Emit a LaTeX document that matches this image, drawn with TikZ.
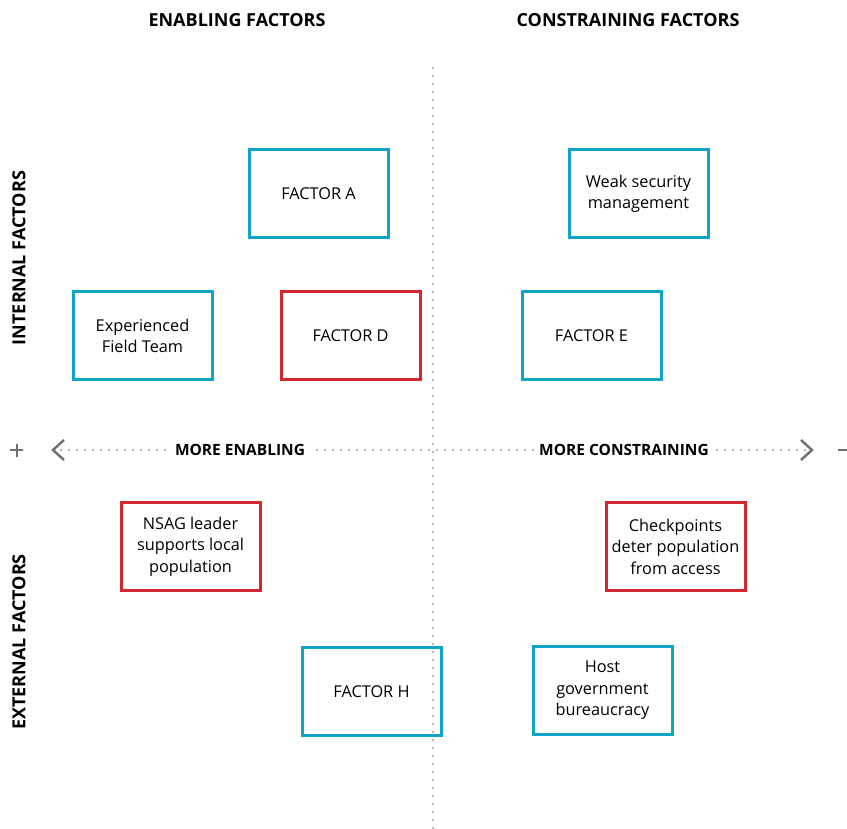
\documentclass[tikz,border=0pt]{standalone}
\usepackage{fontspec}
\setmainfont{Open Sans}
\definecolor{fblue}{HTML}{12A3C9}
\definecolor{fred}{HTML}{D3272F}
\definecolor{axgray}{HTML}{707070}
\begin{document}
\begin{tikzpicture}[x=1pt,y=-1pt,
  box/.style={draw=#1,line width=3pt,minimum width=139pt,minimum height=88pt,inner sep=0pt,align=center,font=\fontsize{16.3}{21.5}\selectfont},
  head/.style={font=\bfseries\fontsize{18}{21}\selectfont},
  axlab/.style={fill=white,inner sep=5pt,font=\bfseries\fontsize{15.5}{18}\selectfont},
  dotline/.style={axgray,line width=1.8pt,line cap=round,dash pattern=on 0pt off 8pt},
  chev/.style={axgray,line width=2.4pt}]
\useasboundingbox (0,0) rectangle (847,829);
% headings
\node[head] (h1) at (237,20) {ENABLING FACTORS};
\node[head] (h2) at (628,20) {CONSTRAINING FACTORS};
\node[head,rotate=90] (h3) at (19,258) {INTERNAL FACTORS};
\node[head,rotate=90] (h4) at (19,642) {EXTERNAL FACTORS};
% axes
\coordinate (vt) at (433,68);
\coordinate (vb) at (433,829);
\draw[dotline] (vt) -- (vb);
\coordinate (al) at (53,450);
\coordinate (ar) at (812,450);
\draw[dotline] (al) -- (ar);
\draw[chev] (64,440) -- (al) -- (64,460);
\draw[chev] (801,440) -- (ar) -- (801,460);
\node[axlab] (le) at (240,450) {MORE ENABLING};
\node[axlab] (lc) at (624,450) {MORE CONSTRAINING};
\draw[axgray,line width=2pt] (10,450) -- (23,450) (16.5,443.5) -- (16.5,456.5);
\draw[axgray,line width=2pt] (838,450) -- (850,450);
% boxes
\node[box=fblue] (a) at (318.5,194) {FACTOR A};
\node[box=fblue] (w) at (638.5,194) {Weak security\\management};
\node[box=fblue] (x) at (142.5,336) {Experienced\\Field Team};
\node[box=fred] (d) at (350.5,336) {FACTOR D};
\node[box=fblue] (e) at (591.5,336) {FACTOR E};
\node[box=fred] (n) at (190.5,546.5) {NSAG leader\\supports local\\population};
\node[box=fred] (c) at (675.5,546.5) {Checkpoints\\deter population\\from access};
\node[box=fblue] (f) at (371.5,691.5) {FACTOR H};
\node[box=fblue] (g) at (602.5,690.5) {Host\\government\\bureaucracy};
\end{tikzpicture}
\end{document}
